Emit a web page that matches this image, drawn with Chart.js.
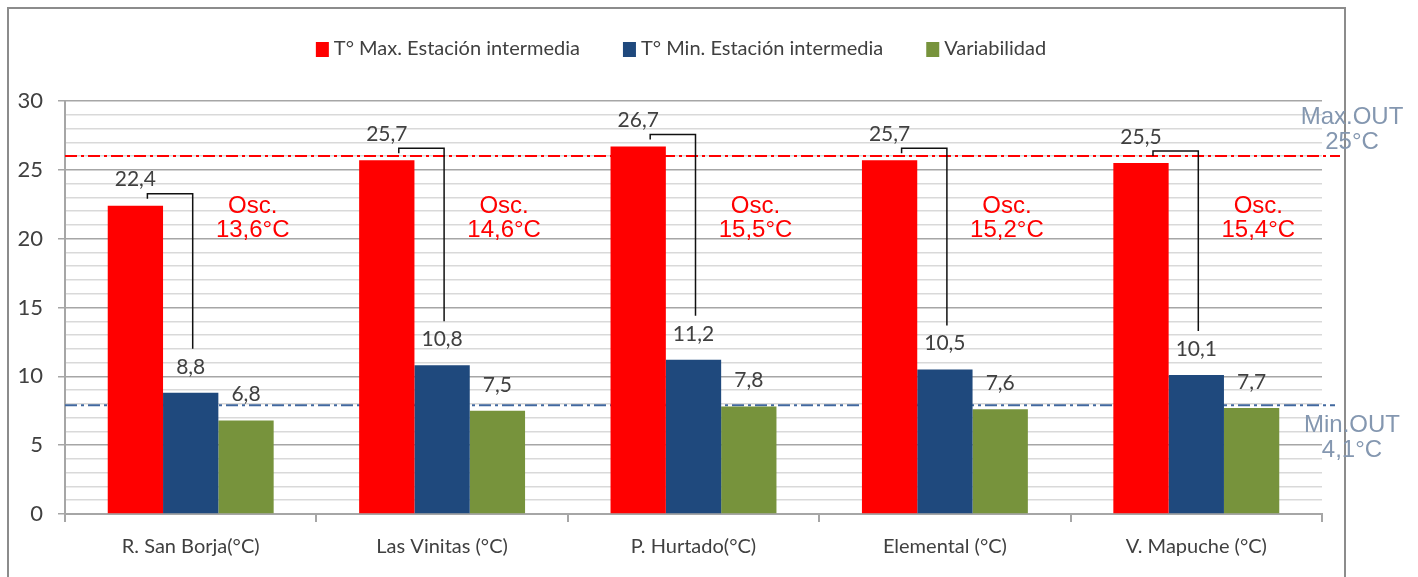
<!DOCTYPE html>
<html>
<head>
<meta charset="utf-8">
<script src="https://cdn.jsdelivr.net/npm/chart.js@4.4.0/dist/chart.umd.min.js"></script>
<style>
  html, body { margin: 0; padding: 0; background: #fff; }
  #wrap { width: 1418px; height: 577px; position: relative; }
</style>
</head>
<body>
<div id="wrap"><canvas id="chart"></canvas></div>
<script>
// ------------------------------
// Data
// ------------------------------
const categories = ['R. San Borja(°C)', 'Las Vinitas (°C)', 'P. Hurtado(°C)', 'Elemental (°C)', 'V. Mapuche (°C)'];
const seriesNames = ['T° Max. Estación intermedia', 'T° Min. Estación intermedia', 'Variabilidad'];
const tMax = [22.4, 25.7, 26.7, 25.7, 25.5];
const tMin = [8.8, 10.8, 11.2, 10.5, 10.1];
const variab = [6.8, 7.5, 7.8, 7.6, 7.7];
const oscLabels = ['13,6°C', '14,6°C', '15,5°C', '15,2°C', '15,4°C'];
const maxOut = 26;
const maxOutText = ['Max.OUT', '25°C'];
const minOut = 7.9;
const minOutText = ['Min.OUT', '4,1°C'];

const colors = ['#ff0000', '#1f497d', '#77933c'];
const textGray = '#404040';
const uiFont = 'Lato, "Open Sans", sans-serif';
const arialFont = '"Liberation Sans", Arial, sans-serif';

const fmt = v => v.toFixed(1).replace('.', ',');

// ------------------------------
// Frame, legend, reference lines, brackets and labels
// ------------------------------
const extras = {
    id: 'extras',
    beforeDraw(chart) {
        const ctx = chart.ctx;
        ctx.save();
        ctx.strokeStyle = '#8c8c8c';
        ctx.lineWidth = 2;
        ctx.strokeRect(8, 8, 1337, 620);
        ctx.restore();
    },
    beforeDatasetsDraw(chart) {
        const {ctx, chartArea, scales: {y}} = chart;
        ctx.save();
        ctx.lineWidth = 2;
        // max line
        ctx.strokeStyle = '#ff0000';
        ctx.setLineDash([12, 4, 3, 4]);
        const yMax = y.getPixelForValue(maxOut);
        ctx.beginPath(); ctx.moveTo(chartArea.left, yMax); ctx.lineTo(chartArea.right + 18, yMax); ctx.stroke();
        // min line
        ctx.strokeStyle = '#41689f';
        const yMin = y.getPixelForValue(minOut);
        ctx.beginPath(); ctx.moveTo(chartArea.left, yMin); ctx.lineTo(chartArea.right + 13, yMin); ctx.stroke();
        ctx.restore();
    },
    afterDatasetsDraw(chart) {
        const {ctx, chartArea, scales: {x, y}} = chart;
        ctx.save();

        // legend
        ctx.font = '20px ' + uiFont;
        ctx.textBaseline = 'middle';
        ctx.textAlign = 'left';
        const items = chart.data.datasets.map(ds => ({label: ds.label, color: ds.backgroundColor, w: 13 + 5 + ctx.measureText(ds.label).width}));
        const gap = 43;
        const total = items.reduce((s, it) => s + it.w, 0) + gap * (items.length - 1);
        let lx = 681 - total / 2;
        items.forEach(it => {
            ctx.fillStyle = it.color;
            ctx.fillRect(lx, 42, 13, 15);
            ctx.fillStyle = textGray;
            ctx.fillText(it.label, lx + 18, 49);
            lx += it.w + gap;
        });

        // value labels above bars
        ctx.textAlign = 'center';
        ctx.font = '21px ' + uiFont;
        ctx.fillStyle = textGray;
        chart.data.datasets.forEach((ds, di) => {
            chart.getDatasetMeta(di).data.forEach((bar, i) => {
                ctx.fillText(fmt(ds.data[i]), bar.x, bar.y - 26);
            });
        });

        // brackets from max bar to min bar
        const reds = chart.getDatasetMeta(0).data;
        const blues = chart.getDatasetMeta(1).data;
        ctx.strokeStyle = '#111';
        ctx.lineWidth = 1.5;
        reds.forEach((bar, i) => {
            const b = blues[i];
            const x0 = bar.x + 12, yh = bar.y - 12, x1 = b.x + 2, y1 = b.y - 44;
            ctx.beginPath();
            ctx.moveTo(x0, yh + 5);
            ctx.lineTo(x0, yh);
            ctx.lineTo(x1, yh);
            ctx.lineTo(x1, y1);
            ctx.stroke();
        });

        // oscillation labels
        ctx.font = '24px ' + arialFont;
        ctx.fillStyle = '#ff0000';
        const yo = y.getPixelForValue(21.5);
        oscLabels.forEach((t, i) => {
            const cx = x.getPixelForValue(i) + 62;
            ctx.fillText('Osc.', cx, yo - 12);
            ctx.fillText(t, cx, yo + 12);
        });

        // outside reference labels
        ctx.fillStyle = '#8497b0';
        const rx = chartArea.right + 30;
        const yMax = y.getPixelForValue(maxOut);
        ctx.fillText(maxOutText[0], rx, yMax - 39);
        ctx.fillText(maxOutText[1], rx, yMax - 14);
        const yMin = y.getPixelForValue(minOut);
        ctx.fillText(minOutText[0], rx, yMin + 20);
        ctx.fillText(minOutText[1], rx, yMin + 45);

        ctx.restore();
    }
};

// ------------------------------
// Chart
// ------------------------------
const c = document.getElementById('chart').getContext('2d');
new Chart(c, {
    type: 'bar',
    data: {
        labels: categories,
        datasets: [
            { label: seriesNames[0], data: tMax, backgroundColor: colors[0] },
            { label: seriesNames[1], data: tMin, backgroundColor: colors[1] },
            { label: seriesNames[2], data: variab, backgroundColor: colors[2] }
        ]
    },
    options: {
        responsive: true,
        maintainAspectRatio: false,
        animation: false,
        layout: { padding: { top: 101, right: 96, bottom: 0, left: 0 } },
        datasets: { bar: { categoryPercentage: 0.66, barPercentage: 1 } },
        plugins: {
            legend: { display: false },
            tooltip: { enabled: false }
        },
        scales: {
            x: {
                afterFit: s => { s.height = 63; },
                grid: { offset: true, drawOnChartArea: false, color: '#a6a6a6', lineWidth: 2, tickLength: 8 },
                border: { color: '#a6a6a6', width: 2 },
                ticks: { color: textGray, font: { family: uiFont, size: 20 }, padding: 13 }
            },
            y: {
                min: 0,
                max: 30,
                afterFit: s => { s.width = 65; },
                border: { color: '#a6a6a6', width: 2 },
                grid: {
                    color: ctx => ctx.tick && ctx.tick.value % 5 === 0 ? '#a6a6a6' : '#d9d9d9',
                    tickColor: ctx => ctx.tick && ctx.tick.value % 5 === 0 ? '#a6a6a6' : 'rgba(0,0,0,0)',
                    lineWidth: 1.5,
                    tickLength: 7
                },
                ticks: {
                    stepSize: 1,
                    autoSkip: false,
                    padding: 15,
                    color: textGray,
                    font: { family: uiFont, size: 22 },
                    callback: v => v % 5 === 0 ? v : ''
                }
            }
        }
    },
    plugins: [extras]
});
</script>
</body>
</html>
